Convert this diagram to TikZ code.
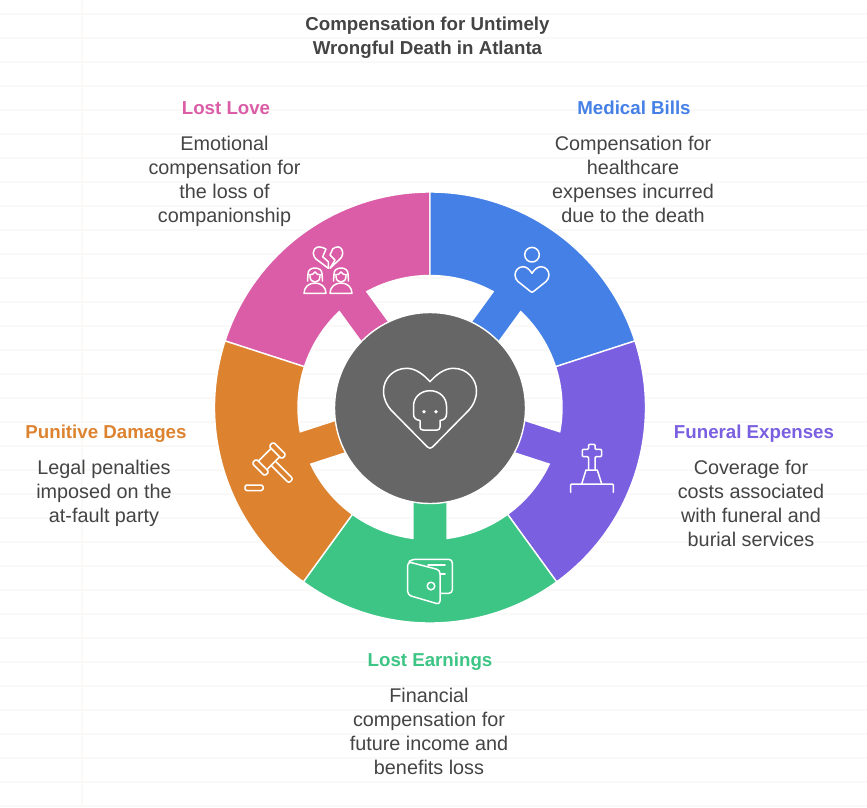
\documentclass[tikz,border=0pt]{standalone}
\usepackage{fontspec}
\setmainfont{Liberation Sans}
\definecolor{cPink}{HTML}{DB5DA8}
\definecolor{cBlue}{HTML}{4580E6}
\definecolor{cPurple}{HTML}{7A5FE0}
\definecolor{cGreen}{HTML}{3DC585}
\definecolor{cOrange}{HTML}{DD8330}
\definecolor{cHub}{HTML}{666666}
\definecolor{cText}{HTML}{444444}
\definecolor{cGrid}{HTML}{FAF9F8}
\tikzset{
  bodytext/.style={align=center,text=cText,inner sep=0pt,font=\fontsize{19.8}{24}\selectfont,execute at begin node=\strut,execute at end node=\strut},
  headtext/.style={inner sep=0pt,font=\fontsize{18.7}{24}\selectfont\bfseries,execute at begin node=\strut,execute at end node=\strut},
  icon/.style={draw=white,line width=1.5pt,line join=round,line cap=round},
  seg/.style={draw=white,line width=1.4pt,line join=miter},
  gridline/.style={draw=cGrid,line width=1.2pt}
}
\newcommand{\ringseg}[2]{%
  \begin{scope}[shift={(430,407.5)},y=1pt,rotate=#2]
    \path[seg,fill=#1] (-36:215.5) arc[start angle=-36,end angle=36,radius=215.5]
      -- (36:132) arc[start angle=36,end angle=7.4,radius=132]
      -- (85,17) -- (85,-17) -- (-7.4:132)
      arc[start angle=-7.4,end angle=-36,radius=132] -- cycle;
  \end{scope}}
\newcommand{\personicon}[1]{%
  \begin{scope}[shift={(#1,0)}]
    \draw[icon] (-11,293.3) -- (11,293.3) .. controls (11,287) and (6,283) .. (0,283)
      .. controls (-6,283) and (-11,287) .. (-11,293.3) -- cycle;
    \draw[icon] (-7.5,281) -- (-7,274) .. controls (-7,270) and (-4,268) .. (0,268)
      .. controls (4,268) and (7,270) .. (7,274) -- (7.5,281);
    \draw[icon] (-6,275) .. controls (-3,275) and (-1.5,274) .. (0,272)
      .. controls (1.5,274) and (3,275) .. (6,275);
    \draw[icon] (-5,276) .. controls (-5,280) and (-3,282) .. (0,282)
      .. controls (3,282) and (5,280) .. (5,276);
  \end{scope}}
\begin{document}
\begin{tikzpicture}[x=1pt,y=-1pt]
\useasboundingbox[fill=white] (0,0) rectangle (867,807);
% faint ruled background
\foreach \yy in {14,38,...,806}{\draw[gridline] (0,\yy) -- (867,\yy);}
\draw[gridline] (82,0) -- (82,807);
% ring segments
\ringseg{cPink}{126}
\ringseg{cBlue}{54}
\ringseg{cPurple}{-18}
\ringseg{cGreen}{-90}
\ringseg{cOrange}{-162}
% hub
\node[circle,fill=cHub,draw=white,line width=1.4pt,minimum size=191pt,inner sep=0pt] (hub) at (430,408) {};
% hub icon: heart
\draw[icon] (430,381.7) .. controls (424,375) and (416,368.3) .. (406.7,368.3)
  .. controls (393,368.3) and (383.5,379) .. (383.5,391)
  .. controls (383.5,399) and (387,405.5) .. (391,410) -- (427.5,447)
  .. controls (429,448.6) and (431,448.6) .. (432.5,447) -- (469,410)
  .. controls (473,405.5) and (476.5,399) .. (476.5,391)
  .. controls (476.5,379) and (467,368.3) .. (453.3,368.3)
  .. controls (444,368.3) and (436,375) .. (430,381.7) -- cycle;
% hub icon: skull
\draw[icon] (430,390.7) .. controls (420,390.7) and (413.5,398) .. (413.5,406) -- (413.5,414)
  .. controls (413.5,418) and (416,420) .. (420,420.5) -- (420,427)
  .. controls (420,429) and (421,430) .. (423,430) -- (437,430)
  .. controls (439,430) and (440,429) .. (440,427) -- (440,420.5)
  .. controls (444,420) and (446.5,418) .. (446.5,414) -- (446.5,406)
  .. controls (446.5,398) and (440,390.7) .. (430,390.7) -- cycle;
\fill[white] (424,411.7) circle[radius=1.8];
\fill[white] (436,411.7) circle[radius=1.8];
% Medical Bills icon
\draw[icon] (532,254.7) circle[radius=7.3];
\draw[icon] (532,273.3) .. controls (529.5,269.5) and (526.5,266.7) .. (523,266.7)
  .. controls (518.5,266.7) and (515,270.5) .. (515,275)
  .. controls (515,278) and (516.5,280) .. (518,281.5) -- (530.5,291.5)
  .. controls (531.5,292.4) and (532.5,292.4) .. (533.5,291.5) -- (546,281.5)
  .. controls (547.5,280) and (549,278) .. (549,275)
  .. controls (549,270.5) and (545.5,266.7) .. (541,266.7)
  .. controls (537.5,266.7) and (534.5,269.5) .. (532,273.3) -- cycle;
% Funeral Expenses icon
\draw[icon,rounded corners=1pt] (588.5,470) -- (588.5,456.7) -- (582.3,456.7) -- (582.3,449.3)
  -- (588.5,449.3) -- (588.5,444.3) -- (595,444.3) -- (595,449.3) -- (601.5,449.3)
  -- (601.5,456.7) -- (595,456.7) -- (595,470);
\draw[icon] (581.7,484) -- (586,470) -- (597.3,470) -- (601.7,484);
\draw[icon,rounded corners=1pt] (570.7,492.3) -- (570.7,484) -- (613.3,484) -- (613.3,492.3);
% Lost Earnings icon
\draw[icon,rounded corners=3.5pt] (407.7,561.7) -- (440,570) -- (440,604.5) -- (407.7,595) -- cycle;
\draw[icon,rounded corners=3.5pt] (410,560.8) -- (411.7,559.3) -- (452.3,559.3) -- (452.3,593.3) -- (441,593.3);
\draw[icon] (428,565) -- (445,565);
\draw[icon] (440,574) -- (445,574);
\draw[icon] (431,586) circle[radius=3.8];
% Punitive Damages icon
\begin{scope}[shift={(269,459)},rotate=-45]
  \draw[icon,rounded corners=1.5pt] (-9,-15) rectangle (9,-9);
  \draw[icon,rounded corners=1.5pt] (-9,9) rectangle (9,15);
  \draw[icon] (-6,-9) -- (-6,9);
  \draw[icon] (6,-9) -- (6,9);
  \draw[icon,rounded corners=2pt] (6,-3) -- (31,-3) -- (31,3) -- (6,3);
\end{scope}
\draw[icon,rounded corners=1.5pt] (245,485) rectangle (263,490.5);
% Lost Love icon
\draw[icon] (326,249) .. controls (323.5,247.6) and (321,246.9) .. (319,246.9)
  .. controls (315.5,246.9) and (313.3,250) .. (313.3,253.5)
  .. controls (313.3,256) and (315,258) .. (316,259) -- (328.3,268.3) -- (328.3,261.7) -- (322.7,256.7) -- cycle;
\draw[icon] (332.7,249) .. controls (334,247.6) and (336,246.9) .. (338,246.9)
  .. controls (341,246.9) and (342.7,250) .. (342.7,253.5)
  .. controls (342.7,256) and (341,258) .. (340,259) -- (330,268.3) -- (335,260) -- (330,255) -- cycle;
\personicon{315}
\personicon{341}
% texts
\node[align=center,inner sep=0pt,text=cText,font=\fontsize{18.7}{24}\selectfont\bfseries,execute at begin node=\strut,execute at end node=\strut] (title) at (427.5,39) {Compensation for Untimely\\Wrongful Death in Atlanta};
\node[headtext,text=cPink] (h1) at (226,110) {Lost Love};
\node[bodytext] (b1) at (224.5,183) {Emotional\\compensation for\\the loss of\\companionship};
\node[headtext,text=cBlue] (h2) at (634,110) {Medical Bills};
\node[bodytext] (b2) at (633,183) {Compensation for\\healthcare\\expenses incurred\\due to the death};
\node[headtext,text=cPurple] (h3) at (754,434) {Funeral Expenses};
\node[bodytext] (b3) at (751,507) {Coverage for\\costs associated\\with funeral and\\burial services};
\node[headtext,text=cOrange] (h4) at (106,434) {Punitive Damages};
\node[bodytext] (b4) at (104,495) {Legal penalties\\imposed on the\\at-fault party};
\node[headtext,text=cGreen] (h5) at (430,662) {Lost Earnings};
\node[bodytext] (b5) at (429,735) {Financial\\compensation for\\future income and\\benefits loss};
\end{tikzpicture}
\end{document}
